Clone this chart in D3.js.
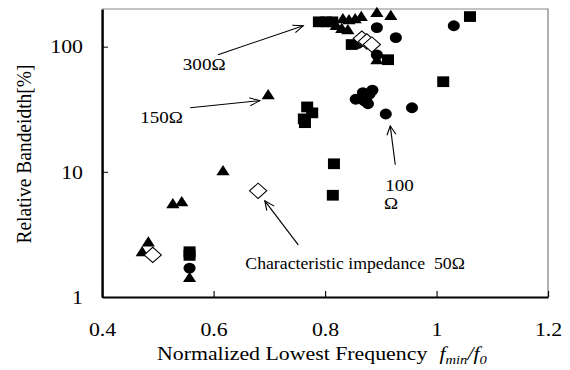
<!DOCTYPE html>
<html lang="en">
<head>
    <title>Relative Bandwidth vs Normalized Lowest Frequency</title>
    <script src='https://d3js.org/d3.v7.min.js'></script>
    <style>
        body { margin: 0; background: #fff; }
    </style>
</head>
<body>
<script>
    // ---- Data: [f_min/f_0, relative bandwidth %] ----
    const tri150 = [
        [0.472, 2.25], [0.483, 2.7], [0.527, 5.45], [0.543, 5.65], [0.557, 1.4],
        [0.617, 10], [0.698, 40.5], [0.820, 145], [0.830, 137], [0.841, 134],
        [0.832, 164], [0.843, 161], [0.854, 164], [0.865, 171], [0.893, 184],
        [0.918, 174], [0.893, 77]
    ];
    const sq300 = [
        [0.557, 2.3], [0.557, 2.15], [0.762, 26.5], [0.764, 24.7], [0.768, 33],
        [0.777, 29.6], [0.814, 6.5], [0.816, 11.6], [0.789, 158], [0.802, 158],
        [0.813, 158], [0.848, 104], [0.913, 78.7], [1.012, 52.5], [1.06, 174]
    ];
    const circ100 = [
        [0.557, 1.7], [0.855, 38], [0.868, 43], [0.875, 40], [0.877, 35],
        [0.885, 45], [0.88, 42], [0.87, 37], [0.859, 106], [0.893, 142],
        [0.893, 86], [0.927, 118], [0.909, 29], [0.956, 32.5], [1.031, 147]
    ];
    const dia50 = [
        [0.491, 2.17], [0.68, 7.05], [0.866, 116], [0.875, 110], [0.884, 104]
    ];

    // Tick values and labels
    const xTicks      = [0.4, 0.6, 0.8, 1.0, 1.2];
    const xTickLabels = ["0.4", "0.6", "0.8", "1", "1.2"];
    const yTicks      = [1, 10, 100];
    const yTickLabels = ["1", "10", "100"];

    // Annotation texts and arrows (in data units)
    const annoText = [
        { t: "300Ω", x: 0.545, y: 65.5, anchor: "start" },
        { t: "150Ω", x: 0.545, y: 24.7, anchor: "end" },
        { t: "100", x: 0.908, y: 7.05, anchor: "start" },
        { t: "Ω", x: 0.906, y: 5.06, anchor: "start" },
        { t: "Characteristic impedance  50Ω", x: 0.657, y: 1.67, anchor: "start", fit: 196 }
    ];
    const annoArrows = [
        [[0.608, 86.3], [0.761, 147]],
        [[0.558, 32.5], [0.683, 37.0]],
        [[0.926, 11.4], [0.917, 23.3]],
        [[0.752, 2.61], [0.692, 5.86]]
    ];

    // ---- Dimensions ----
    const xSize   = 570;
    const ySize   = 370;
    const stretch = 1.12;               // original chart is drawn a bit wide
    const vbWidth = xSize / stretch;
    const pLeft = 91.1, pRight = 489.3, pTop = 9, pBottom = 297;
    const serif = '"Liberation Serif", "Times New Roman", serif';

    const svg = d3.select("body")
        .append("svg")
        .attr("width", xSize)
        .attr("height", ySize)
        .attr("viewBox", `0 0 ${vbWidth} ${ySize}`)
        .attr("preserveAspectRatio", "none");

    // Scales
    const x = d3.scaleLinear().domain([0.4, 1.2]).range([pLeft, pRight]);
    const y = d3.scaleLog().domain([1, 200]).range([pBottom, pTop]);

    // Plot area border (top + right, gray)
    svg.append("path")
        .attr("d", `M${pLeft},${pTop}H${pRight}V${pBottom}`)
        .attr("fill", "none")
        .attr("stroke", "#888")
        .attr("stroke-width", 1.2);

    // X axis
    const xAxis = svg.append("g")
        .attr("transform", `translate(0,${pBottom})`)
        .call(d3.axisBottom(x)
            .tickValues(xTicks)
            .tickFormat((d, i) => xTickLabels[i])
            .tickSizeInner(-6)
            .tickSizeOuter(0)
            .tickPadding(25));

    // Y axis
    const yAxis = svg.append("g")
        .attr("transform", `translate(${pLeft},0)`)
        .call(d3.axisLeft(y)
            .tickValues(yTicks)
            .tickFormat((d, i) => yTickLabels[i])
            .tickSizeInner(-5.4)
            .tickSizeOuter(0)
            .tickPadding(17));

    [xAxis, yAxis].forEach(a => {
        a.select(".domain").attr("stroke", "#000").attr("stroke-width", 2.2);
        a.selectAll(".tick line").attr("stroke", "#000").attr("stroke-width", 1);
        a.selectAll("text")
            .style("font-family", serif)
            .style("font-size", "19.5px")
            .attr("fill", "#000");
    });

    // Axis titles
    const xTitle = svg.append("text")
        .attr("x", 140.2)
        .attr("y", 360)
        .style("font-family", serif)
        .style("font-size", "19.5px")
        .style("white-space", "pre");
    xTitle.append("tspan").text("Normalized Lowest Frequency ");
    xTitle.append("tspan").style("font-style", "italic").attr("dx", 6).text("f");
    xTitle.append("tspan").style("font-style", "italic").style("font-size", "13px").attr("dy", 4).text("min");
    xTitle.append("tspan").style("font-style", "italic").attr("dy", -4).text("/f");
    xTitle.append("tspan").style("font-style", "italic").style("font-size", "13px").attr("dy", 4).text("0");

    svg.append("text")
        .attr("transform", "translate(27.5,154) rotate(-90)")
        .attr("text-anchor", "middle")
        .style("font-family", serif)
        .style("font-size", "19.5px")
        .text("Relative Bandeidth[%]");

    // ---- Markers ----
    function drawSeries(data, type, size, fill, rotate) {
        svg.append("g")
            .selectAll("path")
            .data(data)
            .enter()
            .append("path")
            .attr("d", d3.symbol(type, size))
            .attr("transform", d => `translate(${x(d[0])},${y(d[1])})` + (rotate ? ` rotate(${rotate})` : ""))
            .attr("fill", fill)
            .attr("stroke", "#000")
            .attr("stroke-width", fill === "#fff" ? 1 : 0);
    }
    drawSeries(tri150, d3.symbolTriangle, 60, "#000");
    drawSeries(sq300, d3.symbolSquare, 115, "#000");
    drawSeries(circ100, d3.symbolCircle, 92, "#000");
    drawSeries(dia50, d3.symbolSquare, 118, "#fff", 45);

    // ---- Annotations ----
    svg.append("defs").append("marker")
        .attr("id", "arr")
        .attr("markerUnits", "userSpaceOnUse")
        .attr("markerWidth", 12)
        .attr("markerHeight", 12)
        .attr("refX", 10)
        .attr("refY", 6)
        .attr("orient", "auto")
        .append("path")
        .attr("d", "M1,2 L10,6 L1,10")
        .attr("fill", "none")
        .attr("stroke", "#000")
        .attr("stroke-width", 1);

    svg.append("g")
        .selectAll("line")
        .data(annoArrows)
        .enter()
        .append("line")
        .attr("x1", d => x(d[0][0]))
        .attr("y1", d => y(d[0][1]))
        .attr("x2", d => x(d[1][0]))
        .attr("y2", d => y(d[1][1]))
        .attr("stroke", "#000")
        .attr("stroke-width", 1)
        .attr("marker-end", "url(#arr)");

    svg.append("g")
        .selectAll("text")
        .data(annoText)
        .enter()
        .append("text")
        .attr("x", d => x(d.x))
        .attr("y", d => y(d.y))
        .attr("text-anchor", d => d.anchor)
        .attr("textLength", d => d.fit || null)
        .attr("lengthAdjust", d => d.fit ? "spacingAndGlyphs" : null)
        .style("font-family", serif)
        .style("font-size", "17px")
        .style("white-space", "pre")
        .text(d => d.t);
</script>
</body>
</html>
